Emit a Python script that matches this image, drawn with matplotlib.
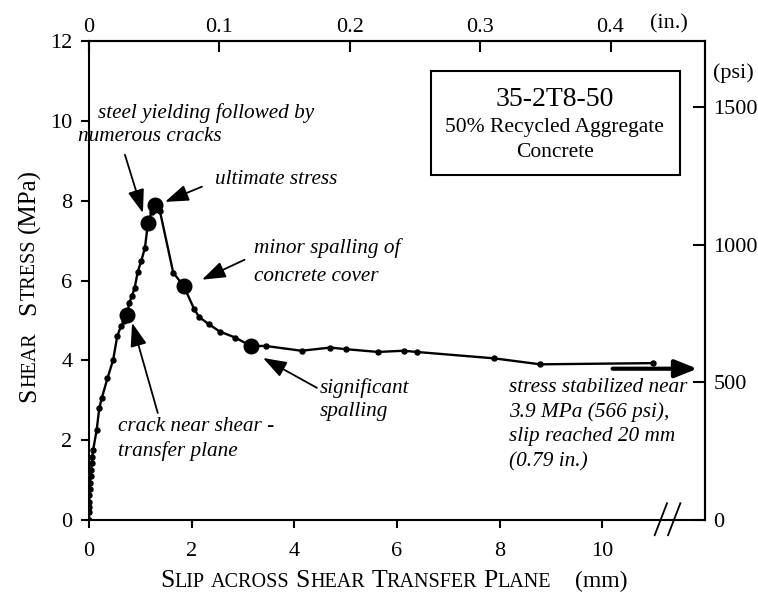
import matplotlib
matplotlib.use("Agg")
import matplotlib.pyplot as plt
from matplotlib.patches import Rectangle
from matplotlib.lines import Line2D

plt.rcParams['font.family'] = ['Liberation Serif', 'DejaVu Serif']

# Measured shear stress versus slip, specimen 35-2T8-50
slip_mm = [0.00, 0.00, 0.00, 0.00, 0.005, 0.01, 0.02, 0.03, 0.04, 0.055, 0.065, 0.08,
           0.15, 0.20, 0.25, 0.36, 0.47, 0.55, 0.62, 0.69, 0.745, 0.78, 0.84, 0.89,
           0.95, 1.02, 1.09, 1.15, 1.22, 1.28, 1.38, 1.64, 1.85, 2.05, 2.15, 2.34,
           2.55, 2.85, 3.15, 3.44, 4.14, 4.70, 5.00, 5.63, 6.13, 6.38, 7.89, 8.79, 10.98]
stress_mpa = [0.00, 0.20, 0.33, 0.45, 0.62, 0.77, 0.93, 1.09, 1.25, 1.42, 1.59, 1.75,
              2.26, 2.80, 3.06, 3.55, 4.01, 4.60, 4.85, 4.98, 5.13, 5.43, 5.62, 5.82,
              6.22, 6.50, 6.82, 7.45, 7.72, 7.88, 7.75, 6.20, 5.85, 5.28, 5.08, 4.90,
              4.72, 4.57, 4.36, 4.36, 4.24, 4.32, 4.28, 4.21, 4.24, 4.21, 4.05, 3.90, 3.93]

# Key events along the curve
event_slip = [0.745, 1.15, 1.28, 1.85, 3.15]
event_stress = [5.13, 7.45, 7.88, 5.85, 4.36]

x_ticks = [0, 2, 4, 6, 8, 10]
y_ticks = [0, 2, 4, 6, 8, 10, 12]
in_ticks = [0, 0.1, 0.2, 0.3, 0.4]
in_labels = ["0", "0.1", "0.2", "0.3", "0.4"]
psi_ticks = [0, 500, 1000, 1500]
psi_labels = ["0", "500", "1000", "1500"]

W, H = 758, 593
fig = plt.figure(figsize=(W / 100, H / 100), dpi=100)
ax = fig.add_axes([89 / W, 1 - 520 / H, (705 - 89) / W, (520 - 41) / H])
ax.set_xlim(0, 12)
ax.set_ylim(0, 12)

ax.plot(slip_mm, stress_mpa, color='black', lw=1.7, marker='o', ms=3.6, zorder=3)
ax.plot(event_slip, event_stress, 'o', color='black', ms=10.5, zorder=4, lw=0)

for s in ax.spines.values():
    s.set_linewidth(1.5)

ax.set_xticks(x_ticks)
ax.set_yticks(y_ticks)
ax.tick_params(axis='both', direction='out', length=6, width=1.5, labelsize=16, pad=6)
ax.tick_params(axis='x', pad=10)
ax.tick_params(top=False, right=False)

mm_per_in = 25.4
psi_per_mpa = 145.038
sec_x = ax.secondary_xaxis('top', functions=(lambda v: v / mm_per_in, lambda v: v * mm_per_in))
sec_x.set_xticks(in_ticks, in_labels)
sec_x.tick_params(direction='in', length=8, width=1.5, labelsize=16, pad=3)
sec_x.spines['top'].set_linewidth(1.5)

sec_y = ax.secondary_yaxis('right', functions=(lambda v: v * psi_per_mpa, lambda v: v / psi_per_mpa))
sec_y.set_yticks(psi_ticks, psi_labels)
sec_y.tick_params(direction='in', length=9, width=1.5, labelsize=16, pad=6)
sec_y.spines['right'].set_linewidth(1.5)

ax.text(11.3, 12.42, "(in.)", fontsize=16, ha='center', va='center', clip_on=False)
ax.text(12.55, 11.2, "(psi)", fontsize=16, ha='center', va='center', clip_on=False)

# Axis break marks on the slip axis
for xb in (11.14, 11.40):
    ax.add_line(Line2D([xb - 0.12, xb + 0.12], [-0.38, 0.42], color='black', lw=1.3,
                       clip_on=False, zorder=5))

# Specimen label box
ax.add_patch(Rectangle((6.67, 8.65), 11.52 - 6.67, 11.25 - 8.65, fill=False,
                       lw=1.5, edgecolor='black', zorder=2))
ax.text(9.07, 10.53, "35-2T8-50", fontsize=20, ha='center', va='center')
ax.text(9.07, 9.84, "50% Recycled Aggregate", fontsize=15.5, ha='center', va='center')
ax.text(9.07, 9.20, "Concrete", fontsize=15.5, ha='center', va='center')

it = dict(fontsize=15.3, style='italic', ha='left', va='center')
ax.text(0.175, 10.2, "steel yielding followed by", **it)
ax.text(-0.21, 9.6, "numerous cracks", clip_on=False, **it)
ax.text(2.45, 8.52, "ultimate stress", **it)
ax.text(3.21, 6.82, "minor spalling of", **it)
ax.text(3.21, 6.09, "concrete cover", **it)
ax.text(0.56, 2.33, "crack near shear -", **it)
ax.text(0.56, 1.73, "transfer plane", **it)
ax.text(4.49, 3.31, "significant", **it)
ax.text(4.49, 2.71, "spalling", **it)
for yy, line in zip([3.33, 2.71, 2.08, 1.45],
                    ["stress stabilized near", "3.9 MPa (566 psi),",
                     "slip reached 20 mm", "(0.79 in.)"]):
    ax.text(8.19, yy, line, **it)

arrow = dict(arrowstyle='-|>,head_length=0.8,head_width=0.28', color='black', lw=1.3,
             shrinkA=0, shrinkB=0, mutation_scale=18)
ax.annotate("", xy=(1.05, 7.69), xytext=(0.70, 9.15), arrowprops=arrow)
ax.annotate("", xy=(1.48, 7.97), xytext=(2.20, 8.35), arrowprops=arrow)
ax.annotate("", xy=(2.20, 6.02), xytext=(3.03, 6.52), arrowprops=arrow)
ax.annotate("", xy=(0.84, 4.94), xytext=(1.34, 2.68), arrowprops=arrow)
ax.annotate("", xy=(3.39, 4.06), xytext=(4.44, 3.31), arrowprops=arrow)
ax.annotate("", xy=(11.85, 3.79), xytext=(10.2, 3.79),
            arrowprops=dict(arrowstyle='-|>,head_length=0.75,head_width=0.3', color='black',
                            lw=3, shrinkA=0, shrinkB=0, mutation_scale=18),
            annotation_clip=False)

# Small-caps axis titles built from pieces of two sizes
BIG, SMALL, PAREN = 18.5, 14.5, 17
renderer = fig.canvas.get_renderer()


def small_caps(pieces, x0, y0, vertical=False):
    pos = x0 if not vertical else y0
    for txt, size, gap in pieces:
        if vertical:
            t = fig.text(x0 / W, 1 - pos / H, txt, fontsize=size, rotation=90,
                         rotation_mode='anchor', ha='left', va='baseline')
            ext = t.get_window_extent(renderer)
            pos -= ext.height + gap
        else:
            t = fig.text(pos / W, 1 - y0 / H, txt, fontsize=size, ha='left', va='baseline')
            ext = t.get_window_extent(renderer)
            pos += ext.width + gap


xlabel = [("S", BIG, 0.5), ("LIP", SMALL, 6), ("ACROSS", SMALL, 6), ("S", BIG, 0.5),
          ("HEAR", SMALL, 6), ("T", BIG, 0), ("RANSFER", SMALL, 6), ("P", BIG, 0),
          ("LANE", SMALL, 24), ("(mm)", PAREN, 0)]
small_caps(xlabel, 160, 587)

ylabel = [("S", BIG, 0.5), ("HEAR", SMALL, 17), ("S", BIG, 0.5), ("TRESS", SMALL, 7),
          ("(MPa)", 18, 0)]
small_caps(ylabel, 35, 402, vertical=True)

fig.savefig("out.png", dpi=100)
